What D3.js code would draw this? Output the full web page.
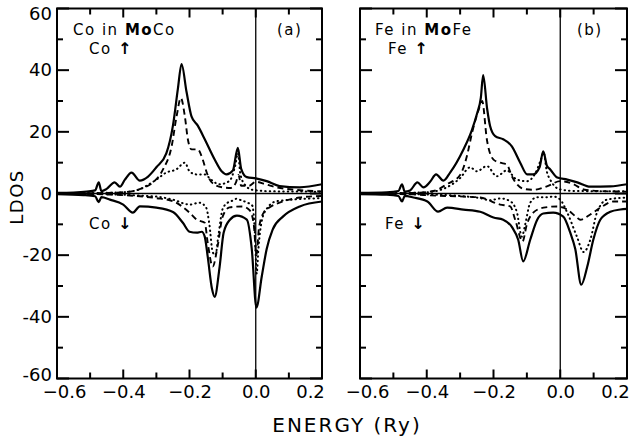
<!DOCTYPE html>
<html>
<head>
<meta charset="utf-8">
<script src="https://cdn.jsdelivr.net/npm/d3@7"></script>
<style>
  body { margin: 0; background: #fff; }
  svg { display: block; font-family: "DejaVu Sans", sans-serif; }
  .frame { fill: none; stroke: #000; stroke-width: 2; }
  .axis path, .axis line { display: none; }
  .axis text { font-size: 18px; fill: #000; font-family: "DejaVu Sans", sans-serif; }
  .ref { stroke: #000; stroke-width: 1.3; }
  .curve { fill: none; stroke: #000; stroke-linejoin: round; }
  .solid { stroke-width: 2.2; }
  .dash { stroke-width: 1.9; stroke-dasharray: 6 4; }
  .dot { stroke-width: 2; stroke-dasharray: 0.5 4; stroke-linecap: round; }
  .lbl { font-size: 15px; letter-spacing: 1.5px; }
  .arr { font-weight: bold; font-size: 16px; }
</style>
</head>
<body>
<div id="chart"></div>
<script>
// energy (Ry) vs LDOS
// panel (a) Co in MoCo
const coUpSolid = [[-0.6,0.2],[-0.55,0.3],[-0.51,0.6],[-0.485,1.0],[-0.474,3.6],[-0.466,0.8],[-0.45,1.5],[-0.426,3.6],[-0.41,2.2],[-0.395,4.5],[-0.375,6.8],[-0.35,4.2],[-0.325,5.5],[-0.3,8.5],[-0.27,13],[-0.25,22],[-0.235,34],[-0.224,42],[-0.209,33],[-0.194,25],[-0.175,22],[-0.154,17.6],[-0.124,11],[-0.103,7.2],[-0.088,6.2],[-0.069,7.5],[-0.054,14.8],[-0.044,8],[-0.027,5.3],[0.0,4.9],[0.033,4.0],[0.072,2.4],[0.133,2.0],[0.2,3.0]]
const coUpDash = [[-0.6,0],[-0.45,0.2],[-0.39,0.5],[-0.34,1.8],[-0.31,3.6],[-0.28,7.8],[-0.254,15.3],[-0.239,25],[-0.226,31],[-0.214,25],[-0.205,17.6],[-0.194,14.3],[-0.175,14.3],[-0.16,11],[-0.148,6.8],[-0.133,3.6],[-0.1,2],[-0.075,1.8],[-0.06,3.5],[-0.052,6],[-0.044,2.5],[-0.02,2.5],[0.0,3.8],[0.03,3],[0.063,2],[0.12,1.2],[0.2,0.7]]
const coUpDot = [[-0.6,0],[-0.42,0.3],[-0.36,1.0],[-0.33,2.5],[-0.3,4.5],[-0.27,6.8],[-0.24,7.8],[-0.214,10],[-0.2,7.2],[-0.18,6.2],[-0.154,6.2],[-0.135,4.5],[-0.11,3],[-0.08,4],[-0.062,9],[-0.054,13],[-0.046,6],[-0.03,2.5],[-0.01,1.2],[0.05,0.7],[0.2,0.6]]
const coDnSolid = [[-0.6,-0.2],[-0.52,-0.5],[-0.485,-0.9],[-0.474,-2.8],[-0.466,-1.2],[-0.44,-2.0],[-0.4,-3.6],[-0.371,-6.2],[-0.35,-4.2],[-0.3,-4.6],[-0.25,-6],[-0.22,-9.5],[-0.2,-12.4],[-0.178,-12.7],[-0.163,-12.4],[-0.154,-14],[-0.145,-20.5],[-0.132,-31],[-0.124,-33.5],[-0.109,-23.7],[-0.097,-12.7],[-0.078,-8.5],[-0.057,-7.2],[-0.027,-8.5],[-0.012,-18],[0.002,-37],[0.018,-27],[0.033,-18],[0.051,-11.7],[0.082,-7.5],[0.133,-4.2],[0.2,-2.6]]
const coDnDash = [[-0.6,0],[-0.45,-0.3],[-0.36,-0.8],[-0.3,-1.5],[-0.25,-2.5],[-0.2,-6.2],[-0.178,-8.5],[-0.154,-9.5],[-0.145,-16],[-0.13,-23.7],[-0.115,-17],[-0.1,-7.5],[-0.079,-4.5],[-0.04,-4.2],[-0.018,-5.5],[-0.006,-10],[0.002,-20],[0.01,-11],[0.025,-6],[0.04,-4.6],[0.082,-2.6],[0.133,-1.3],[0.2,-0.8]]
const coDnDot = [[-0.6,0],[-0.42,-0.3],[-0.35,-0.7],[-0.3,-1],[-0.25,-2],[-0.2,-3.6],[-0.17,-3],[-0.15,-4.5],[-0.14,-10],[-0.13,-19],[-0.122,-20],[-0.112,-13],[-0.1,-5],[-0.085,-3],[-0.07,-2.3],[-0.058,-1.7],[-0.042,-2.3],[-0.024,-3],[-0.01,-4],[-0.003,-12],[0.003,-26],[0.008,-18],[0.018,-9],[0.033,-5],[0.063,-2.5],[0.2,-1.5]]

// panel (b) Fe in MoFe
const feUpSolid = [[-0.6,0.2],[-0.52,0.4],[-0.485,0.8],[-0.474,3.0],[-0.466,0.6],[-0.45,1.0],[-0.428,3.6],[-0.41,2.0],[-0.39,3.8],[-0.372,6.2],[-0.35,4.2],[-0.33,6.8],[-0.29,14.3],[-0.265,20.5],[-0.249,26],[-0.238,31],[-0.231,38.4],[-0.219,27.4],[-0.21,21.8],[-0.195,18.6],[-0.171,17.6],[-0.145,15.3],[-0.12,10],[-0.099,6.2],[-0.081,6.2],[-0.062,8.5],[-0.051,13.7],[-0.04,9],[-0.03,7.8],[-0.009,5.2],[0.021,4.5],[0.051,3.6],[0.09,2.2],[0.15,2.3],[0.2,3.0]]
const feUpDash = [[-0.6,0],[-0.44,0.2],[-0.38,0.8],[-0.34,3],[-0.3,6],[-0.28,12],[-0.264,19.8],[-0.245,27],[-0.234,30],[-0.22,17.6],[-0.2,11],[-0.18,10],[-0.16,9.4],[-0.145,5.6],[-0.11,1.5],[-0.08,1.2],[-0.04,2.3],[0.0,4],[0.04,3],[0.07,1.3],[0.12,0.8],[0.2,0.6]]
const feUpDot = [[-0.6,0],[-0.4,0.4],[-0.34,2],[-0.3,5],[-0.27,8.5],[-0.25,7.2],[-0.22,8.9],[-0.19,5.6],[-0.16,7.5],[-0.13,4.5],[-0.1,4],[-0.075,6.5],[-0.058,11],[-0.05,13.3],[-0.04,7],[-0.03,4.5],[0.0,1.3],[0.05,0.8],[0.2,0.7]]
const feDnSolid = [[-0.6,-0.2],[-0.52,-0.4],[-0.485,-0.8],[-0.474,-2.6],[-0.466,-0.8],[-0.44,-1.3],[-0.398,-2.6],[-0.366,-5.9],[-0.339,-4.6],[-0.29,-5.2],[-0.24,-5.9],[-0.2,-7.8],[-0.171,-8.5],[-0.144,-11],[-0.126,-15],[-0.111,-22],[-0.09,-15],[-0.069,-8.5],[-0.051,-6.5],[-0.021,-6.2],[0.009,-7.5],[0.03,-12.7],[0.045,-18],[0.063,-29.6],[0.081,-23.7],[0.099,-15],[0.12,-8.5],[0.15,-5.9],[0.18,-5.2],[0.2,-5.0]]
const feDnDash = [[-0.6,0],[-0.44,-0.3],[-0.39,-0.6],[-0.29,-1],[-0.24,-1.3],[-0.18,-3.6],[-0.15,-4.2],[-0.135,-8.5],[-0.113,-15.6],[-0.1,-10],[-0.081,-6.2],[-0.05,-4.6],[-0.01,-4.2],[0.021,-5.2],[0.05,-7.8],[0.06,-8.5],[0.09,-6.8],[0.12,-4.6],[0.16,-2.6],[0.2,-2.6]]
const feDnDot = [[-0.6,0],[-0.4,-0.3],[-0.3,-0.8],[-0.24,-1.5],[-0.21,-2.2],[-0.18,-1.6],[-0.15,-2.5],[-0.13,-6],[-0.115,-14],[-0.105,-10],[-0.09,-3],[-0.07,-1.2],[-0.04,-1.2],[-0.02,-1.0],[0.0,-2],[0.021,-6.2],[0.05,-14],[0.07,-19],[0.09,-15],[0.11,-6.2],[0.14,-2],[0.2,-1.3]]

const xMajor = [-0.6, -0.4, -0.2, 0.0, 0.2]
const xMinor = [-0.5, -0.3, -0.1, 0.1]
const yMajor = [-60, -40, -20, 0, 20, 40, 60]
const yMinor = [-50, -30, -10, 10, 30, 50]

const W = 631, H = 439
const plotTop = 8.5, plotBottom = 378.5

const svg = d3.select("#chart").append("svg")
  .attr("width", W)
  .attr("height", H)

function drawPanel(p) {
  let x = d3.scaleLinear().domain([-0.6, 0.2]).range([p.left, p.right])
  let y = d3.scaleLinear().domain([-60, 60]).range([plotBottom, plotTop])
  let g = svg.append("g")

  g.append("clipPath").attr("id", "clip-" + p.id)
    .append("rect")
    .attr("x", p.left).attr("y", plotTop)
    .attr("width", p.right - p.left).attr("height", plotBottom - plotTop)

  // tick labels from the axes
  g.append("g").attr("class", "axis xb")
    .attr("transform", "translate(0," + plotBottom + ")")
    .call(d3.axisBottom(x).tickValues(xMajor).tickSize(0).tickPadding(7)
      .tickFormat(d3.format(".1f")))
  if (p.yLabels) {
    g.append("g").attr("class", "axis yl")
      .attr("transform", "translate(" + p.left + ",0)")
      .call(d3.axisLeft(y).tickValues(yMajor).tickSize(0).tickPadding(5)
        .tickFormat(d => String(d)))
  }

  // end labels sit inside the frame
  g.selectAll(".xb .tick text")
    .attr("dx", d => d === -0.6 ? 7 : (d === 0.2 ? -12 : 0))
  g.selectAll(".yl .tick text")
    .attr("dy", d => d === 60 ? "0.62em" : (d === -60 ? "0.1em" : "0.32em"))

  // zero lines
  g.append("line").attr("class", "ref")
    .attr("x1", x(-0.6)).attr("x2", x(0.2)).attr("y1", y(0)).attr("y2", y(0))
  g.append("line").attr("class", "ref")
    .attr("x1", x(0)).attr("x2", x(0)).attr("y1", y(-60)).attr("y2", y(60))

  let curveLine = d3.line()
    .x(d => x(d[0]))
    .y(d => y(d[1]))
    .curve(d3.curveMonotoneX)

  g.append("g").attr("clip-path", "url(#clip-" + p.id + ")")
    .selectAll("path")
    .data(p.curves)
    .join("path")
    .attr("class", d => "curve " + d.style)
    .attr("d", d => curveLine(d.values))

  g.append("rect").attr("class", "frame")
    .attr("x", p.left).attr("y", plotTop)
    .attr("width", p.right - p.left).attr("height", plotBottom - plotTop)

  // inward tick marks on all four sides
  let ticks = []
  xMajor.forEach(v => ticks.push([x(v), plotBottom, x(v), plotBottom - 9], [x(v), plotTop, x(v), plotTop + 9]))
  xMinor.forEach(v => ticks.push([x(v), plotBottom, x(v), plotBottom - 6], [x(v), plotTop, x(v), plotTop + 6]))
  yMajor.forEach(v => ticks.push([p.left, y(v), p.left + 12, y(v)], [p.right, y(v), p.right - 12, y(v)]))
  yMinor.forEach(v => ticks.push([p.left, y(v), p.left + 6, y(v)], [p.right, y(v), p.right - 6, y(v)]))
  svg.append("g")
    .selectAll("line")
    .data(ticks)
    .join("line")
    .attr("x1", d => d[0]).attr("y1", d => d[1])
    .attr("x2", d => d[2]).attr("y2", d => d[3])
    .style("stroke", "#000")
    .style("stroke-width", "2px")

  // labels
  let t = g.append("text").attr("class", "lbl").attr("x", p.titleX).attr("y", 35)
  t.append("tspan").text(p.atom + " in ")
  t.append("tspan").attr("font-weight", "bold").text("Mo")
  t.append("tspan").text(p.atom)

  g.append("text").attr("class", "lbl").attr("x", p.tagX).attr("y", 35)
    .attr("letter-spacing", "3px").text(p.tag)

  let u = g.append("text").attr("class", "lbl").attr("x", p.upX).attr("y", 54)
  u.append("tspan").text(p.atom + " ")
  u.append("tspan").attr("class", "arr").text("↑")
  let dn = g.append("text").attr("class", "lbl").attr("x", p.dnX).attr("y", 229)
  dn.append("tspan").text(p.atom + " ")
  dn.append("tspan").attr("class", "arr").text("↓")
}

drawPanel({
  id: "a", left: 57, right: 322, yLabels: true,
  atom: "Co", tag: "(a)", titleX: 73, tagX: 277, upX: 89, dnX: 89,
  curves: [
    {style: "solid", values: coUpSolid}, {style: "dash", values: coUpDash}, {style: "dot", values: coUpDot},
    {style: "solid", values: coDnSolid}, {style: "dash", values: coDnDash}, {style: "dot", values: coDnDot}
  ]
})

drawPanel({
  id: "b", left: 360, right: 627, yLabels: false,
  atom: "Fe", tag: "(b)", titleX: 375, tagX: 577, upX: 388, dnX: 385,
  curves: [
    {style: "solid", values: feUpSolid}, {style: "dash", values: feUpDash}, {style: "dot", values: feUpDot},
    {style: "solid", values: feDnSolid}, {style: "dash", values: feDnDash}, {style: "dot", values: feDnDot}
  ]
})

svg.append("text")
  .attr("transform", "translate(23,197) rotate(-90)")
  .attr("text-anchor", "middle")
  .attr("font-size", 18)
  .attr("letter-spacing", "1.5px")
  .text("LDOS")

svg.append("text")
  .attr("x", 347).attr("y", 432)
  .attr("text-anchor", "middle")
  .attr("font-size", 20)
  .attr("letter-spacing", "2px")
  .text("ENERGY (Ry)")
</script>
</body>
</html>
